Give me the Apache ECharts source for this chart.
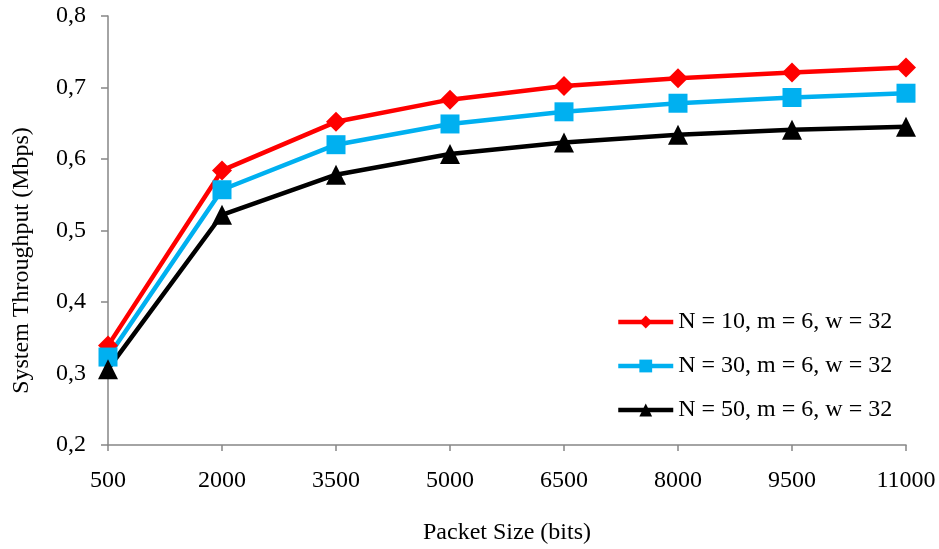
<!DOCTYPE html>
<html>
<head>
<meta charset="utf-8">
<script src="https://cdn.jsdelivr.net/npm/echarts@6/dist/echarts.min.js"></script>
<style>
html,body{margin:0;padding:0;background:#fff;}
#chart{width:939px;height:549px;}
</style>
</head>
<body>
<div id="chart"></div>
<script>
var categories = ['500','2000','3500','5000','6500','8000','9500','11000'];
var seriesNames = ['N = 10, m = 6, w = 32','N = 30, m = 6, w = 32','N = 50, m = 6, w = 32'];
var n10 = [0.339, 0.584, 0.652, 0.683, 0.702, 0.713, 0.721, 0.728];
var n30 = [0.323, 0.557, 0.620, 0.649, 0.666, 0.678, 0.686, 0.692];
var n50 = [0.306, 0.522, 0.578, 0.607, 0.623, 0.634, 0.641, 0.645];
var yTicks = [0.2, 0.8, 0.1];
var xName = 'Packet Size (bits)';
var yName = 'System Throughput (Mbps)';

var font = '"Liberation Serif","Times New Roman",serif';
var chart = echarts.init(document.getElementById('chart'));
function mk(name, data, color, symbol, size){
  return {
    name: name, type: 'line', data: data,
    symbol: symbol, symbolSize: size, symbolKeepAspect: true,
    lineStyle: {color: color, width: 4.5},
    itemStyle: {color: color},
    animation: false, z: 2
  };
}
chart.setOption({
  backgroundColor: '#fff',
  animation: false,
  grid: {left: 108, right: 33, top: 16, bottom: 104, containLabel: false, outerBoundsMode: 'none'},
  legend: {
    orient: 'vertical', left: 616, top: 310, padding: 0,
    itemWidth: 55, itemHeight: 16, itemGap: 20,
    lineStyle: {width: 4.5},
    textStyle: {fontFamily: font, fontSize: 24, color: '#000'},
    data: seriesNames
  },
  xAxis: {
    type: 'category', data: categories, boundaryGap: false,
    name: xName, nameLocation: 'middle', nameGap: 76,
    nameTextStyle: {fontFamily: font, fontSize: 24, color: '#000'},
    axisLine: {lineStyle: {color: '#868686', width: 1.5}},
    axisTick: {show: true, alignWithLabel: true, length: 6, lineStyle: {color: '#868686', width: 1.5}},
    axisLabel: {fontFamily: font, fontSize: 24, color: '#000', margin: 24},
    splitLine: {show: false}
  },
  yAxis: {
    type: 'value', min: yTicks[0], max: yTicks[1], interval: yTicks[2],
    name: yName, nameLocation: 'middle', nameGap: 74, nameRotate: 90,
    nameTextStyle: {fontFamily: font, fontSize: 24, color: '#000', padding: [0, 60, 0, 0]},
    axisLine: {show: true, lineStyle: {color: '#868686', width: 1.5}},
    axisTick: {show: true, length: 7, lineStyle: {color: '#868686', width: 1.5}},
    axisLabel: {fontFamily: font, fontSize: 24, color: '#000', margin: 22,
      formatter: function(v){ return v.toFixed(1).replace('.', ','); }},
    splitLine: {show: false}
  },
  series: [
    mk(seriesNames[0], n10, '#FF0000', 'diamond', 20),
    mk(seriesNames[1], n30, '#00B0F0', 'rect', 19),
    mk(seriesNames[2], n50, '#000000', 'triangle', 20)
  ]
});
</script>
</body>
</html>
